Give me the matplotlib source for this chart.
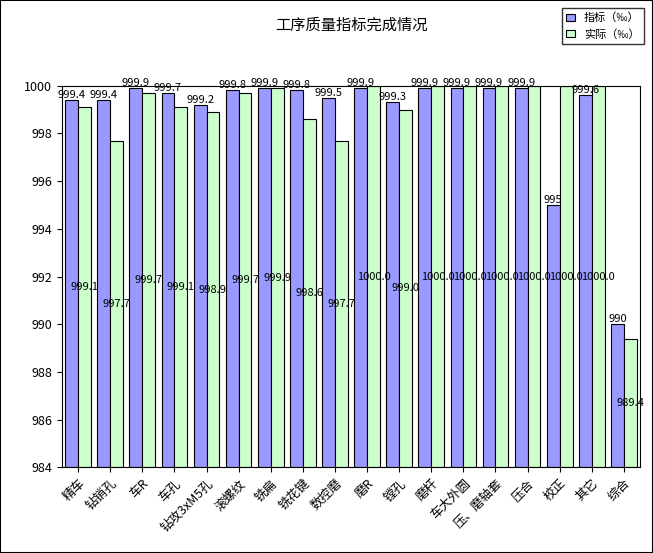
import matplotlib.pyplot as plt
import numpy as np

plt.rcParams['font.family'] = ['Noto Sans CJK SC', 'DejaVu Sans']

categories = ['精车', '钻销孔', '车R', '车孔', '钻攻3xM5孔', '滚螺纹', '铣扁', '铣花键', '数控磨',
              '磨R', '镗孔', '磨杆', '车大外圆', '压、磨轴套', '压合', '校正', '其它', '综合']
target = [999.4, 999.4, 999.9, 999.7, 999.2, 999.8, 999.9, 999.8, 999.5,
          999.9, 999.3, 999.9, 999.9, 999.9, 999.9, 995, 999.6, 990]
actual = [999.1, 997.7, 999.7, 999.1, 998.9, 999.7, 999.9, 998.6, 997.7,
          1000.0, 999.0, 1000.0, 1000.0, 1000.0, 1000.0, 1000.0, 1000.0, 989.4]

fig = plt.figure(figsize=(6.53, 5.53), dpi=100)
ax = fig.add_axes([0.095, 0.155, 0.885, 0.69])
x = np.arange(len(categories))
w = 0.4
base = 984
ax.bar(x - w / 2, np.array(target) - base, w, bottom=base, color='#9999ff', edgecolor='black', linewidth=0.8, label='指标（‰）')
ax.bar(x + w / 2, np.array(actual) - base, w, bottom=base, color='#ccffcc', edgecolor='black', linewidth=0.8, label='实际（‰）')

for i in range(len(categories)):
    t = target[i]
    ax.text(x[i] - w / 2, t, f'{t:g}' if t == int(t) else f'{t:.1f}', ha='center', va='bottom', fontsize=8)
    a = actual[i]
    ax.text(x[i] + w / 2, (a + base) / 2, f'{a:.1f}', ha='center', va='center', fontsize=8)

ax.set_ylim(984, 1000)
ax.set_yticks(range(984, 1001, 2))
ax.set_xlim(-0.5, len(categories) - 0.5)
ax.set_xticks(x)
ax.set_xticklabels(categories, rotation=45, ha='right', rotation_mode='anchor', fontsize=9)
ax.tick_params(axis='y', labelsize=9)
ax.set_title('工序质量指标完成情况', fontsize=11, pad=40)
fig.legend(loc='upper right', bbox_to_anchor=(0.995, 0.995), fontsize=8, frameon=True,
           fancybox=False, edgecolor='black', handlelength=0.8)
fig.patches.append(plt.Rectangle((0, 0), 1, 1, transform=fig.transFigure, fill=False, edgecolor='black', linewidth=1.5))
fig.savefig('out.png', dpi=100)
